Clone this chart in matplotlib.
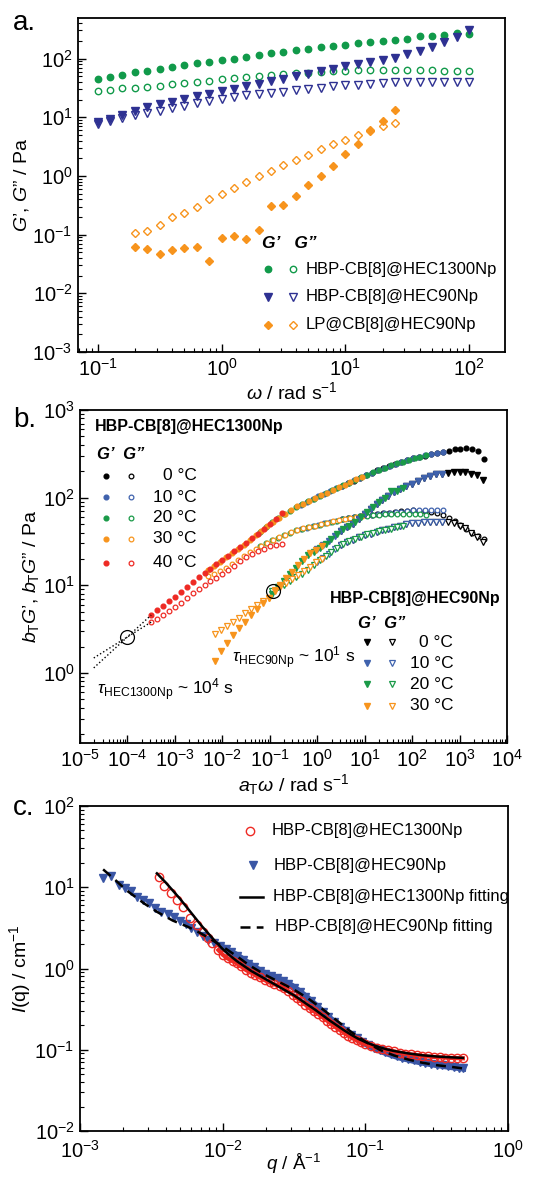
import numpy as np
import matplotlib
matplotlib.use("Agg")
import matplotlib.pyplot as plt
from matplotlib.ticker import LogLocator, NullFormatter

plt.rcParams['font.family'] = ['Liberation Sans', 'DejaVu Sans']
plt.rcParams['mathtext.fontset'] = 'custom'
plt.rcParams['mathtext.rm'] = 'Liberation Sans'
plt.rcParams['mathtext.it'] = 'Liberation Sans:italic'
plt.rcParams['mathtext.bf'] = 'Liberation Sans:bold'
plt.rcParams['mathtext.default'] = 'regular'

# ---------------- panel a data ----------------
omega_a = [0.1, 0.126, 0.158, 0.2, 0.251, 0.316, 0.398, 0.501, 0.631, 0.794,
           1.0, 1.26, 1.58, 2.0, 2.51, 3.16, 3.98, 5.01, 6.31, 7.94,
           10.0, 12.6, 15.8, 20.0, 25.1, 31.6, 39.8, 50.1, 63.1, 79.4, 100.0]
hec1300_Gp = [44.7, 48.3, 52.9, 57.9, 61.8, 66.8, 71.3, 76.1, 83.4, 88.9,
              94.9, 100, 108, 115, 122, 130, 138, 146, 154, 164,
              173, 182, 192, 202, 210, 218, 239, 242, 255, 269, 262]
hec1300_Gpp = [27.9, 29.4, 31.0, 31.8, 32.7, 34.0, 36.2, 38.2, 40.2, 41.8,
               44.0, 45.8, 47.6, 49.5, 51.5, 53.5, 55.7, 57.2, 59.4, 60.2,
               61.8, 62.6, 63.5, 63.5, 64.3, 64.3, 63.5, 62.6, 61.8, 61.0, 61.0]
hec90_Gp = [8.13, 9.25, 10.9, 12.8, 14.8, 16.6, 18.4, 20.7, 23.0, 25.2,
            28.3, 30.6, 33.5, 36.7, 40.7, 45.2, 49.5, 54.9, 61.0, 65.9,
            73.1, 81.2, 87.8, 94.9, 103, 118, 135, 156, 189, 233, 310]
hec90_Gpp = [7.71, 8.55, 9.75, 10.8, 11.7, 13.0, 14.2, 15.6, 17.3, 18.9,
             20.5, 21.8, 23.6, 24.9, 25.8, 27.2, 29.0, 30.6, 31.8, 33.5,
             34.9, 35.8, 37.2, 38.2, 39.7, 40.2, 40.2, 40.2, 40.2, 39.7, 39.7]
omega_lp = omega_a[3:25]
lp_Gp = [0.0618, 0.0578, 0.0464, 0.0549, 0.0587, 0.0625, 0.0353, 0.0889, 0.0950, 0.0835,
         0.120, 0.304, 0.316, 0.450, 0.692, 0.996, 1.47, 2.33, 3.53, 5.74, 8.69, 13.2]
lp_Gpp = [0.106, 0.117, 0.146, 0.200, 0.237, 0.292, 0.400, 0.492, 0.615, 0.796,
          1.01, 1.20, 1.51, 1.89, 2.30, 2.87, 3.49, 4.13, 5.02, 5.97, 7.06, 7.94]

# ---------------- panel b data ----------------
omega_b = [0.0316, 0.0422, 0.0562, 0.0750, 0.100, 0.133, 0.178, 0.237, 0.316, 0.422,
           0.562, 0.750, 1.00, 1.33, 1.78, 2.37, 3.16, 4.22, 5.62, 7.50,
           10.0, 13.3, 17.8, 23.7, 31.6, 42.2, 56.2, 75.0, 100.0]
temps_1300 = ['0 °C', '10 °C', '20 °C', '30 °C', '40 °C']
aT_1300 = [33.1, 4.47, 2.0, 0.0891, 0.00178]
Gp_1300 = [
    [136.5, 146.2, 156.7, 167.9, 179.9, 190.5, 204.2, 216.3, 230.7, 242.7, 254.1, 267.3, 280.5,
     291.7, 302, 314, 325, 335, 344, 355, 363, 367, 359, 339, 279],
    [83.2, 89.1, 96.6, 103.8, 111.2, 119.1, 127.6, 136.8, 146.6, 157.0, 168.3, 180.3, 191.9,
     204.2, 217.8, 231.2, 243.2, 255.3, 267.9, 280.5, 291.7, 302.7, 314.1, 325.8, 335.0],
    [40.7, 46.5, 52.2, 57.9, 64.3, 71.3, 78.2, 84.1, 90.8, 97.7, 105.2, 112.7, 120.8, 129.4,
     138.7, 148.6, 159.2, 170.6, 182.4, 194.1, 207.0, 220.3, 233.3, 245.5, 257.6, 270.4, 283.1,
     293.8, 304.8],
    [14.8, 16.6, 18.6, 20.8, 23.2, 25.9, 28.9, 32.6, 37.0, 42.0, 47.6, 53.3, 59.2, 65.6, 72.8,
     79.4, 85.5, 92.3, 99.3, 106.7, 114.3, 122.5, 131.2, 140.6, 150.7, 161.4, 173.0],
    [4.57, 5.16, 5.82, 6.58, 7.41, 8.41, 9.55, 10.8, 12.3, 13.8, 15.5, 17.4, 19.5, 21.8, 24.3,
     27.1, 30.2, 34.3, 38.9, 44.2, 50.1, 57.5, 67.6],
]
Gpp_1300 = [
    [56.8, 58.6, 60.3, 61.7, 63.2, 64.1, 65.2, 66.1, 67.0, 68.2, 69.5, 70.8, 71.5, 70.8, 70.0,
     68.9, 66.8, 63.1, 58.9, 54.3, 49.0, 43.7, 39.8, 36.3, 33.5],
    [43.7, 45.3, 47.1, 49.0, 50.7, 52.6, 54.6, 56.5, 58.2, 59.8, 61.7, 63.1, 64.0, 65.0, 66.1,
     67.0, 68.2, 69.2, 70.5, 71.6, 72.1, 72.4, 72.4, 72.1, 71.6],
    [28.2, 30.3, 32.5, 34.8, 37.3, 39.8, 42.4, 44.2, 45.8, 47.5, 49.2, 51.1, 52.7, 54.6, 56.5,
     58.1, 59.6, 61.0, 62.1, 63.1, 64.0, 64.6, 65.2, 65.5, 65.6, 65.5, 65.0, 64.3, 63.1],
    [12.6, 13.5, 14.5, 15.8, 17.6, 19.5, 21.6, 24.0, 26.0, 28.2, 30.5, 32.7, 35.1, 37.6, 40.3,
     42.7, 44.7, 46.2, 47.9, 49.7, 51.5, 53.5, 55.5, 57.3, 58.9, 60.5, 61.9],
    [3.80, 4.17, 4.62, 5.09, 5.62, 6.31, 7.16, 8.09, 9.12, 10.07, 11.1, 12.2, 13.5, 15.1, 16.8,
     18.7, 20.9, 22.6, 24.3, 26.0, 27.9, 28.8, 29.9],
]
temps_90 = ['0 °C', '10 °C', '20 °C', '30 °C']
aT_90 = [31.6, 4.22, 0.631, 0.0126]
Gp_90 = [
    [41.7, 45.7, 50.1, 56.9, 64.6, 74.1, 85.1, 94.4, 104.7, 114.8, 125.9, 134.9, 144.5, 154.9,
     166.0, 175.0, 184.1, 188.4, 192.8, 195.0, 197.2, 195.0, 188.4, 179.9, 158.5],
    [25.7, 28.5, 31.6, 36.3, 41.7, 45.7, 50.1, 56.9, 64.6, 74.1, 85.1, 94.4, 104.7, 114.8,
     125.9, 134.9, 144.5, 154.9, 166.0, 175.0, 184.1, 188.4],
    [7.94, 9.44, 11.2, 13.3, 15.8, 18.8, 21.9, 24.2, 26.8, 29.7, 33.4, 38.4, 43.3, 47.4, 52.7,
     59.8, 68.2, 78.3, 88.7, 98.4, 117.5, 119.1, 130.0],
    [1.36, 1.78, 2.21, 2.72, 3.24, 3.85, 4.57, 5.43, 6.31, 7.21, 8.51, 10.1, 12.0, 14.3, 17.0,
     20.2, 23.2, 25.1, 27.9],
]
Gpp_90 = [
    [28.8, 30.9, 33.1, 35.1, 37.2, 38.9, 40.7, 42.2, 43.7, 45.7, 47.9, 49.5, 51.3, 51.9, 52.5,
     52.8, 53.1, 52.7, 52.5, 51.3, 47.9, 44.7, 39.8, 35.1, 30.9],
    [18.6, 20.7, 22.9, 25.7, 28.8, 30.9, 33.1, 35.1, 37.2, 38.9, 40.7, 42.2, 43.7, 45.7, 47.9,
     49.5, 51.3, 51.9, 52.5, 52.8, 53.1, 52.8],
    [8.71, 9.44, 10.2, 11.2, 12.3, 13.6, 15.1, 17.0, 19.5, 21.4, 23.7, 26.9, 29.5, 31.6, 33.9,
     35.9, 38.0, 39.8, 41.7, 43.2, 44.2, 45.7, 47.3],
    [2.75, 3.09, 3.39, 3.80, 4.27, 4.79, 5.37, 5.89, 6.61, 7.24, 8.81, 9.55, 10.6, 11.7, 13.0,
     14.5, 16.2, 18.2, 20.2],
]
# extrapolation (dotted) lines and crossover points
extrap_x = [1.95e-5, 3.16e-4]
extrap_Gp = [1.14, 4.57]
extrap_Gpp = [1.48, 3.80]
cross_x = [1.0e-4, 0.117]
cross_y = [2.57, 8.5]

# ---------------- panel c data (log10 values) ----------------
logq_90 = [-2.838, -2.784, -2.730, -2.687, -2.644, -2.601, -2.558, -2.515, -2.472, -2.429,
           -2.386, -2.342, -2.300, -2.260, -2.220, -2.180, -2.140, -2.100, -2.060, -2.020,
           -1.980, -1.940, -1.900, -1.860, -1.820, -1.780, -1.740, -1.700, -1.660, -1.620,
           -1.580, -1.540, -1.500, -1.460, -1.420, -1.380, -1.340, -1.300, -1.260, -1.220,
           -1.180, -1.140, -1.100, -1.060, -1.020, -0.980, -0.940, -0.900, -0.860, -0.820,
           -0.780, -0.740, -0.700, -0.660, -0.620, -0.580, -0.540, -0.500, -0.460, -0.420,
           -0.380, -0.340, -0.316]
logI_90 = [1.110, 1.138, 1.027, 0.986, 0.957, 0.875, 0.842, 0.801, 0.739, 0.698,
           0.670, 0.637, 0.590, 0.545, 0.500, 0.455, 0.400, 0.355, 0.318, 0.280,
           0.240, 0.200, 0.160, 0.110, 0.060, 0.015, -0.030, -0.065, -0.090, -0.120,
           -0.150, -0.190, -0.235, -0.290, -0.345, -0.405, -0.470, -0.535, -0.600, -0.660,
           -0.715, -0.765, -0.815, -0.860, -0.900, -0.940, -0.975, -1.005, -1.032, -1.057,
           -1.080, -1.100, -1.115, -1.132, -1.147, -1.160, -1.172, -1.183, -1.193, -1.203,
           -1.212, -1.220, -1.226]
logq_1300 = [-2.446, -2.414, -2.364, -2.321, -2.278, -2.228, -2.181, -2.138, -2.100, -2.073,
             -2.030, -2.000, -1.965, -1.930, -1.900, -1.870, -1.836, -1.800, -1.771, -1.740,
             -1.706, -1.670, -1.640, -1.600, -1.570, -1.540, -1.510, -1.480, -1.450, -1.420,
             -1.390, -1.360, -1.330, -1.300, -1.270, -1.240, -1.210, -1.180, -1.150, -1.120,
             -1.090, -1.060, -1.030, -1.000, -0.960, -0.920, -0.880, -0.840, -0.800, -0.760,
             -0.720, -0.680, -0.640, -0.600, -0.560, -0.520, -0.480, -0.440, -0.400, -0.360,
             -0.316]
logI_1300 = [1.122, 1.015, 0.932, 0.842, 0.752, 0.617, 0.535, 0.452, 0.380, 0.309,
             0.227, 0.170, 0.124, 0.090, 0.063, 0.025, -0.020, -0.050, -0.081, -0.110,
             -0.143, -0.170, -0.195, -0.210, -0.245, -0.280, -0.320, -0.360, -0.400, -0.445,
             -0.490, -0.525, -0.560, -0.600, -0.640, -0.680, -0.720, -0.755, -0.790, -0.825,
             -0.855, -0.885, -0.910, -0.930, -0.955, -0.975, -0.990, -1.005, -1.020, -1.035,
             -1.048, -1.058, -1.067, -1.075, -1.082, -1.088, -1.093, -1.097, -1.100, -1.103,
             -1.105]
logq_fit1300 = [-2.461, -2.40, -2.35, -2.30, -2.25, -2.20, -2.15, -2.10, -2.05, -2.00, -1.95,
                -1.90, -1.85, -1.80, -1.75, -1.70, -1.65, -1.60, -1.55, -1.50, -1.45, -1.40,
                -1.35, -1.30, -1.25, -1.20, -1.15, -1.10, -1.05, -1.00, -0.95, -0.90, -0.85,
                -0.80, -0.70, -0.60, -0.50, -0.40, -0.316]
logI_fit1300 = [1.171, 1.06, 0.96, 0.86, 0.75, 0.64, 0.53, 0.43, 0.33, 0.24, 0.16,
                0.09, 0.03, -0.03, -0.08, -0.13, -0.18, -0.23, -0.28, -0.33, -0.39, -0.45,
                -0.51, -0.575, -0.64, -0.70, -0.76, -0.815, -0.865, -0.905, -0.94, -0.97, -0.995,
                -1.015, -1.045, -1.068, -1.083, -1.093, -1.10]
logq_fit90 = [-2.838, -2.75, -2.677, -2.55, -2.461, -2.35, -2.245, -2.15, -2.094, -2.0, -1.9,
              -1.814, -1.7, -1.6, -1.5, -1.4, -1.3, -1.2, -1.1, -1.0, -0.9, -0.8, -0.7, -0.6,
              -0.5, -0.4, -0.316]
logI_fit90 = [1.22, 1.085, 0.966, 0.80, 0.698, 0.59, 0.514, 0.43, 0.371, 0.27, 0.15,
              0.04, -0.08, -0.17, -0.26, -0.37, -0.50, -0.64, -0.78, -0.90, -1.0, -1.07, -1.12,
              -1.16, -1.19, -1.21, -1.23]

# ---------------- colours ----------------
GREEN = '#119a4a'
NAVY = '#2e3192'
ORANGE = '#f7941d'
BLUE_B = '#3f62ad'
GREEN_B = '#1a9a48'
RED = '#ee2a24'
BLUE_C = '#3a56a5'
cols_1300 = ['#000000', BLUE_B, GREEN_B, ORANGE, RED]
cols_90 = ['#000000', BLUE_B, GREEN_B, ORANGE]

W, H = 540, 1178
fig = plt.figure(figsize=(W / 100, H / 100), dpi=100)
TICK_FS = 14.5
LABEL_FS = 14


def ax_rect(left, top, right, bottom):
    return [left / W, 1 - bottom / H, (right - left) / W, (bottom - top) / H]


def style(ax, xlim, ylim):
    ax.set_xscale('log')
    ax.set_yscale('log')
    ax.set_xlim(*xlim)
    ax.set_ylim(*ylim)
    for axis in (ax.xaxis, ax.yaxis):
        axis.set_major_locator(LogLocator(base=10, numticks=30))
        axis.set_minor_locator(LogLocator(base=10, subs=np.arange(2, 10), numticks=30))
        axis.set_minor_formatter(NullFormatter())
    ax.tick_params(which='both', direction='in', top=False, right=False, labelsize=TICK_FS)
    ax.tick_params(which='major', length=5.5, width=1.0, pad=4)
    ax.tick_params(which='minor', length=3, width=0.8)
    for s in ax.spines.values():
        s.set_linewidth(1.3)


# ================= panel a =================
axa = fig.add_axes(ax_rect(78, 18, 505, 352))
style(axa, (10 ** -1.16, 10 ** 2.29), (1e-3, 10 ** 2.69))
axa.plot(omega_a, hec1300_Gp, 'o', ms=4.6, color=GREEN, mec=GREEN)
axa.plot(omega_a, hec1300_Gpp, 'o', ms=4.6, mfc='none', mec=GREEN, mew=1.0)
axa.plot(omega_a, hec90_Gp, 'v', ms=5.3, color=NAVY, mec=NAVY)
axa.plot(omega_a, hec90_Gpp, 'v', ms=5.3, mfc='none', mec=NAVY, mew=1.0)
axa.plot(omega_lp, lp_Gp, 'D', ms=4.2, color=ORANGE, mec=ORANGE)
axa.plot(omega_lp, lp_Gpp, 'D', ms=4.2, mfc='none', mec=ORANGE, mew=1.0)
axa.set_ylabel("$\\mathit{G}$’, $\\mathit{G}$” / Pa", fontsize=LABEL_FS, labelpad=1)
axa.set_xlabel("$\\mathit{\\omega}$ / rad s$^{-1}$", fontsize=LABEL_FS, labelpad=1)

T = axa.transAxes
axa.text(0.431, 0.326, "G’   G”", transform=T, fontsize=12.5, fontweight='bold', style='italic',
         ha='left', va='center')
leg_a = [("HBP-CB[8]@HEC1300Np", 'o', GREEN, 4.6, 0.2485),
         ("HBP-CB[8]@HEC90Np", 'v', NAVY, 5.3, 0.165),
         ("LP@CB[8]@HEC90Np", 'D', ORANGE, 4.2, 0.081)]
for label, mk, c, ms, yy in leg_a:
    axa.plot([0.445], [yy], mk, ms=ms, color=c, mec=c, transform=T, clip_on=False)
    axa.plot([0.503], [yy], mk, ms=ms, mfc='none', mec=c, mew=1.0, transform=T, clip_on=False)
    axa.text(0.532, yy, label, transform=T, fontsize=12, ha='left', va='center')

# ================= panel b =================
axb = fig.add_axes(ax_rect(80, 410, 507, 743))
style(axb, (1e-5, 1e4), (10 ** -0.80, 1e3))
for a, gp, gpp, c in zip(aT_1300, Gp_1300, Gpp_1300, cols_1300):
    x = [a * w for w in omega_b[-len(gp):]]
    axb.plot(x, gpp, 'o', ms=3.4, mfc='white', mec=c, mew=0.9)
    axb.plot(x, gp, 'o', ms=3.4, color=c, mec=c)
for a, gp, gpp, c in zip(aT_90, Gp_90, Gpp_90, cols_90):
    x = [a * w for w in omega_b[-len(gp):]]
    axb.plot(x, gpp, 'v', ms=3.9, mfc='white', mec=c, mew=0.9)
    axb.plot(x, gp, 'v', ms=3.9, color=c, mec=c)
axb.plot(extrap_x, extrap_Gp, ':', color='k', lw=1.0)
axb.plot(extrap_x, extrap_Gpp, ':', color='k', lw=1.0)
axb.plot(cross_x, cross_y, 'o', ms=10, mfc='none', mec='k', mew=0.9, ls='none')
axb.set_ylabel("$\\mathit{b}_{\\rm T}\\mathit{G}$’, $\\mathit{b}_{\\rm T}\\mathit{G}$” / Pa",
               fontsize=LABEL_FS, labelpad=1)
axb.set_xlabel("$\\mathit{a}_{\\rm T}\\mathit{\\omega}$ / rad s$^{-1}$", fontsize=LABEL_FS,
               labelpad=1)

T = axb.transAxes
axb.text(0.035, 0.950, "HBP-CB[8]@HEC1300Np", transform=T, fontsize=11.5, fontweight='bold',
         ha='left', va='center')
axb.text(0.040, 0.865, "G’  G”", transform=T, fontsize=12, fontweight='bold', style='italic',
         ha='left', va='center')
for lab, c, yy in zip(temps_1300, cols_1300, [0.802, 0.738, 0.677, 0.613, 0.541]):
    axb.plot([0.061], [yy], 'o', ms=3.4, color=c, mec=c, transform=T, clip_on=False)
    axb.plot([0.119], [yy], 'o', ms=3.4, mfc='white', mec=c, mew=0.9, transform=T, clip_on=False)
    axb.text(0.273, yy, lab, transform=T, fontsize=12.5, ha='right', va='center')
axb.text(0.984, 0.4345, "HBP-CB[8]@HEC90Np", transform=T, fontsize=11.5, fontweight='bold',
         ha='right', va='center')
axb.text(0.650, 0.360, "G’  G”", transform=T, fontsize=12, fontweight='bold', style='italic',
         ha='left', va='center')
for lab, c, yy in zip(temps_90, cols_90, [0.302, 0.239, 0.177, 0.112]):
    axb.plot([0.671], [yy], 'v', ms=3.9, color=c, mec=c, transform=T, clip_on=False)
    axb.plot([0.731], [yy], 'v', ms=3.9, mfc='white', mec=c, mew=0.9, transform=T, clip_on=False)
    axb.text(0.874, yy, lab, transform=T, fontsize=12.5, ha='right', va='center')
axb.text(0.04, 0.159, "$\\mathit{\\tau}_{\\rm HEC1300Np}$ ~ 10$^4$ s", transform=T,
         fontsize=12.5, ha='left', va='center')
axb.text(0.356, 0.255, "$\\mathit{\\tau}_{\\rm HEC90Np}$ ~ 10$^1$ s", transform=T,
         fontsize=12.5, ha='left', va='center')

# ================= panel c =================
axc = fig.add_axes(ax_rect(80, 806, 508, 1131))
style(axc, (1e-3, 1.0), (1e-2, 1e2))
axc.tick_params(axis='x', which='major', pad=6.5)
q90 = 10 ** np.array(logq_90)
I90 = 10 ** np.array(logI_90)
q13 = 10 ** np.array(logq_1300)
I13 = 10 ** np.array(logI_1300)
axc.plot(q90, I90, 'v', ms=6.0, color=BLUE_C, mec=BLUE_C, ls='none')
axc.plot(q90[20:], I90[20:], '-', color=BLUE_C, lw=5)
axc.plot(q13[10:], I13[10:], '-', color=RED, lw=3)
axc.plot(q13, I13, 'o', ms=6.0, mfc='none', mec=RED, mew=1.0, ls='none')
axc.plot(10 ** np.array(logq_fit1300), 10 ** np.array(logI_fit1300), '-', color='k', lw=1.8)
axc.plot(10 ** np.array(logq_fit90), 10 ** np.array(logI_fit90), '--', color='k', lw=1.8,
         dashes=(4, 2.5))
axc.set_ylabel("$\\mathit{I}$(q) / cm$^{-1}$", fontsize=LABEL_FS, labelpad=1)
axc.set_xlabel("$\\mathit{q}$ / Å$^{-1}$", fontsize=13.5, va='bottom')
axc.xaxis.set_label_coords(0.5, -0.138)
T = axc.transAxes
axc.plot([0.397], [0.924], 'o', ms=6.0, mfc='none', mec=RED, mew=1.0, transform=T)
axc.text(0.448, 0.924, "HBP-CB[8]@HEC1300Np", transform=T, fontsize=12, ha='left', va='center')
axc.plot([0.405], [0.818], 'v', ms=6.0, color=BLUE_C, mec=BLUE_C, transform=T)
axc.text(0.452, 0.818, "HBP-CB[8]@HEC90Np", transform=T, fontsize=12, ha='left', va='center')
axc.plot([0.374, 0.428], [0.721, 0.721], '-', color='k', lw=1.8, transform=T)
axc.text(0.452, 0.721, "HBP-CB[8]@HEC1300Np fitting", transform=T, fontsize=12, ha='left',
         va='center')
axc.plot([0.374, 0.428], [0.629, 0.629], '--', color='k', lw=1.8, dashes=(4, 2.5), transform=T)
axc.text(0.456, 0.629, "HBP-CB[8]@HEC90Np fitting", transform=T, fontsize=12, ha='left',
         va='center')

# panel letters
fig.text(13 / W, 1 - 30 / H, "a.", fontsize=20, ha='left', va='baseline')
fig.text(13 / W, 1 - 427 / H, "b.", fontsize=20, ha='left', va='baseline')
fig.text(13 / W, 1 - 815 / H, "c.", fontsize=20, ha='left', va='baseline')

fig.savefig("out.png", dpi=100)
